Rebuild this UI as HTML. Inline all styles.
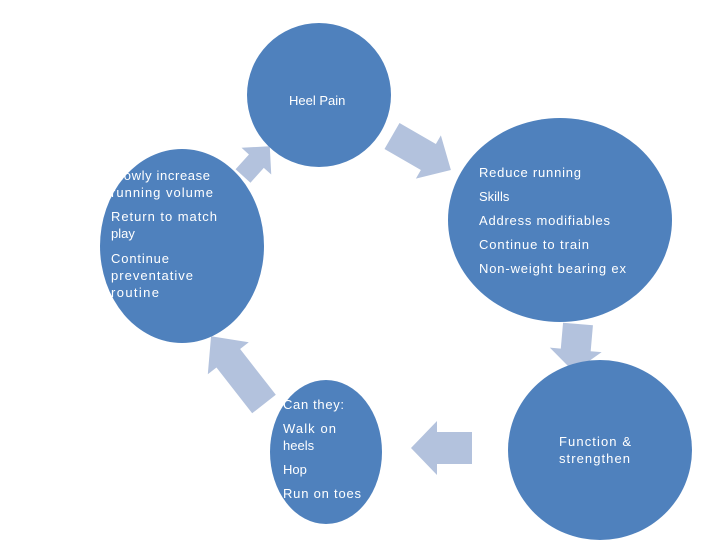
<!DOCTYPE html>
<html><head><meta charset="utf-8"><style>
html,body{margin:0;padding:0;background:#fff;}
svg{display:block;}
text{font-family:"Liberation Sans",sans-serif;font-size:13px;fill:#fff;}
</style></head><body>
<svg width="720" height="540" viewBox="0 0 720 540" xmlns="http://www.w3.org/2000/svg">
<g fill="#B3C2DD">
<!-- arrow polygon: length L, shaft w, head h, head length hl -->
<polygon transform="translate(243,176) rotate(-48)" points="0,-10 20,-10 20,-20 40,0 20,20 20,10 0,10"/>
<polygon transform="translate(392,136) rotate(30)" points="0,-15 42,-15 42,-25 68,0 42,25 42,15 0,15"/>
<polygon transform="translate(578,324) rotate(95)" points="0,-15 26,-15 26,-26 48,0 26,26 26,15 0,15"/>
<polygon transform="translate(472,448) rotate(180)" points="0,-16 35,-16 35,-27 61,0 35,27 35,16 0,16"/>
<polygon transform="translate(264,404) rotate(-128)" points="0,-15 58,-15 58,-26 86,0 58,26 58,15 0,15"/>
</g>
<g fill="#4F81BD">
<ellipse cx="319" cy="95" rx="72" ry="72"/>
<ellipse cx="560" cy="220" rx="112" ry="102"/>
<ellipse cx="600" cy="450" rx="92" ry="90"/>
<ellipse cx="326" cy="452" rx="56" ry="72"/>
<ellipse cx="182" cy="246" rx="82" ry="97"/>
</g>
<text x="289" y="105">Heel Pain</text>
<text x="479" y="177" textLength="102">Reduce running</text>
<text x="479" y="201">Skills</text>
<text x="479" y="225" textLength="131">Address modifiables</text>
<text x="479" y="249" textLength="110">Continue to train</text>
<text x="479" y="273" textLength="147">Non-weight bearing ex</text>
<text x="111" y="180" textLength="99">Slowly increase</text>
<text x="111" y="197" textLength="102">running volume</text>
<text x="111" y="221" textLength="106">Return to match</text>
<text x="111" y="238">play</text>
<text x="111" y="263" textLength="58">Continue</text>
<text x="111" y="280" textLength="82">preventative</text>
<text x="111" y="297" textLength="48">routine</text>
<text x="283" y="409" textLength="61">Can they:</text>
<text x="283" y="433" textLength="53">Walk on</text>
<text x="283" y="450">heels</text>
<text x="283" y="474">Hop</text>
<text x="283" y="498" textLength="78">Run on toes</text>
<text x="559" y="446" textLength="72">Function &amp;</text>
<text x="559" y="463" textLength="71">strengthen</text>
</svg>
</body></html>
